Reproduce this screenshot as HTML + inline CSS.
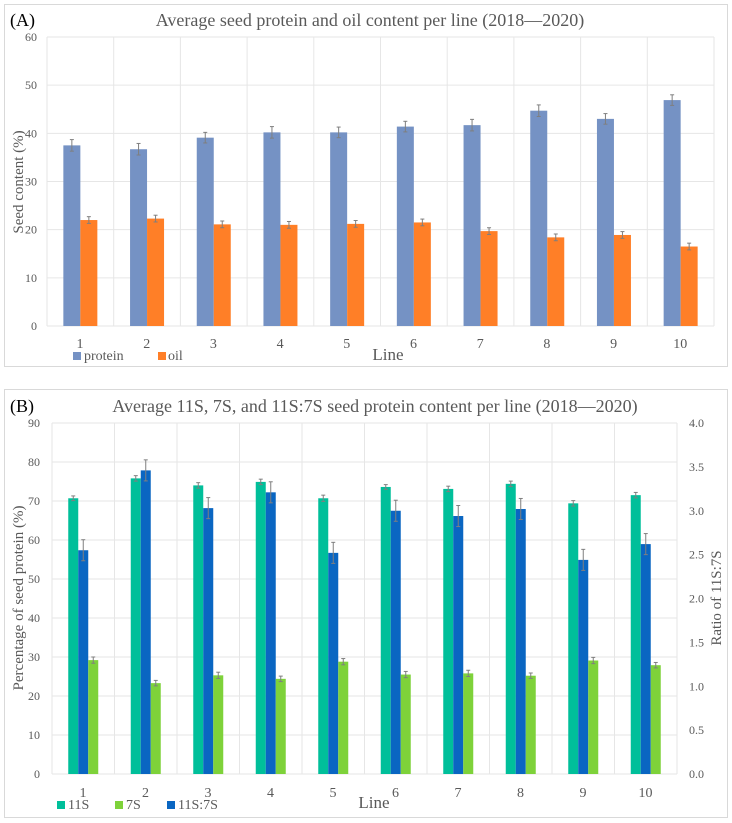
<!DOCTYPE html>
<html><head><meta charset="utf-8">
<style>
body{margin:0;background:#fff;}
svg{display:block;font-family:"Liberation Serif",serif;}
</style></head>
<body>
<svg id="chart" width="732" height="823" viewBox="0 0 732 823"></svg>
<script>
const categories=["1","2","3","4","5","6","7","8","9","10"];
const protein=[37.5,36.7,39.1,40.2,40.2,41.4,41.7,44.7,43.0,46.9];
const proteinErr=[1.2,1.2,1.1,1.2,1.1,1.1,1.2,1.2,1.1,1.1];
const oil=[22.0,22.3,21.1,21.0,21.2,21.5,19.7,18.4,18.9,16.5];
const oilErr=[0.7,0.7,0.7,0.7,0.7,0.7,0.7,0.7,0.7,0.7];
const ticksA=[0,10,20,30,40,50,60];
const s11=[70.7,75.8,74.0,74.9,70.7,73.6,73.1,74.4,69.4,71.5];
const s11Err=[0.6,0.7,0.7,0.7,0.8,0.6,0.7,0.7,0.7,0.7];
const s7=[29.2,23.3,25.3,24.4,28.8,25.5,25.8,25.2,29.1,27.9];
const s7Err=[0.8,0.7,0.8,0.7,0.8,0.8,0.8,0.7,0.8,0.7];
const ratio=[2.55,3.46,3.03,3.21,2.52,3.00,2.94,3.02,2.44,2.62];
const ratioErr=[0.12,0.12,0.12,0.12,0.12,0.12,0.12,0.12,0.12,0.12];
const ticksB=[0,10,20,30,40,50,60,70,80,90];
const ticksR=[0,0.5,1,1.5,2,2.5,3,3.5,4];

const svg=document.getElementById('chart');
const NS='http://www.w3.org/2000/svg';
function mk(tag,attrs,parent){const e=document.createElementNS(NS,tag);for(const k in attrs)e.setAttribute(k,attrs[k]);(parent||svg).appendChild(e);return e;}
function txt(x,y,s,size,anchor,fill,parent){const t=mk('text',{x:x,y:y,'font-size':size,'text-anchor':anchor||'middle',fill:fill||'#595959'},parent);t.textContent=s;return t;}
function bar(g,x,v,e,yf,w,color,name){
 const r=mk('rect',{x:x,y:yf(v),width:w,height:yf(0)-yf(v),fill:color},g);
 
 
 const cx=x+w/2;
 mk('line',{x1:cx,x2:cx,y1:yf(v+e),y2:yf(v-e),stroke:'#7f7f7f','stroke-width':1},g);
 mk('line',{x1:cx-2,x2:cx+2,y1:yf(v+e),y2:yf(v+e),stroke:'#7f7f7f'},g);
 mk('line',{x1:cx-2,x2:cx+2,y1:yf(v-e),y2:yf(v-e),stroke:'#7f7f7f'},g);
}

// Panel A
const gA=mk('g',{});


mk('rect',{x:4.5,y:4.5,width:723,height:362,fill:'#fff',stroke:'#d9d9d9'},gA);
const A={x0:47,x1:714,y0:326,y1:37,max:60};
const yA=v=>A.y0-(v/A.max)*(A.y0-A.y1);
const cwA=(A.x1-A.x0)/categories.length;
ticksA.forEach(tk=>{mk('line',{x1:A.x0,x2:A.x1,y1:yA(tk),y2:yA(tk),stroke:'#e6e6e6'},gA);
 const l=txt(A.x0-10,yA(tk)+4,tk,12,'end','#595959',gA);
 
 });
for(let i=0;i<=categories.length;i++)mk('line',{x1:A.x0+i*cwA,x2:A.x0+i*cwA,y1:A.y1,y2:A.y0,stroke:'#e6e6e6'},gA);
const bwA=17;
categories.forEach((c,i)=>{
 const cx=A.x0+i*cwA+cwA/2;
 bar(gA,cx-bwA,protein[i],proteinErr[i],yA,bwA,'#7592c4','bar-protein');
 bar(gA,cx,oil[i],oilErr[i],yA,bwA,'#ff7f27','bar-oil');
 const l=txt(A.x0+i*cwA+33,348,c,14,'middle','#595959',gA);
 
 
});
let t=txt(370,26,'Average seed protein and oil content per line (2018\u20142020)',18,'middle','#595959',gA);

t=txt(10,26,'(A)',18,'start','#000',gA);

t=txt(0,0,'Seed content (%)',15,'middle','#595959',gA);t.setAttribute('transform','translate(23,182) rotate(-90)');

t=txt(388,360,'Line',17,'middle','#595959',gA);

let le=mk('g',{},gA);
mk('rect',{x:73,y:352,width:8,height:8,fill:'#7592c4'},le);txt(84,360,'protein',14,'start','#595959',le);
le=mk('g',{},gA);
mk('rect',{x:158,y:352,width:8,height:8,fill:'#ff7f27'},le);txt(168,360,'oil',14,'start','#595959',le);

// Panel B
const gB=mk('g',{});


mk('rect',{x:4.5,y:389.5,width:723,height:428,fill:'#fff',stroke:'#d9d9d9'},gB);
const B={x0:52,x1:677,y0:774,y1:423,max:90,rmax:4};
const yB=v=>B.y0-(v/B.max)*(B.y0-B.y1);
const yR=v=>B.y0-(v/B.rmax)*(B.y0-B.y1);
const cwB=(B.x1-B.x0)/categories.length;
ticksB.forEach(tk=>{mk('line',{x1:B.x0,x2:B.x1,y1:yB(tk),y2:yB(tk),stroke:'#e6e6e6'},gB);
 const l=txt(B.x0-12,yB(tk)+4,tk,12,'end','#595959',gB);
 
 });
ticksR.forEach(tk=>{const l=txt(B.x1+12,yR(tk)+4,tk.toFixed(1),12,'start','#595959',gB);
 
 });
for(let i=0;i<=categories.length;i++)mk('line',{x1:B.x0+i*cwB,x2:B.x0+i*cwB,y1:B.y1,y2:B.y0,stroke:'#e6e6e6'},gB);
const bwB=10;
categories.forEach((c,i)=>{
 const cx=B.x0+i*cwB+cwB/2;
 bar(gB,cx-15,s11[i],s11Err[i],yB,bwB,'#00bf9a','bar-11s');
 bar(gB,cx-5,ratio[i],ratioErr[i],yR,bwB,'#0a66c2','bar-ratio');
 bar(gB,cx+5,s7[i],s7Err[i],yB,bwB,'#7ed23a','bar-7s');
 const l=txt(B.x0+i*cwB+31,797,c,14,'middle','#595959',gB);
 
 
});
t=txt(375,412,'Average 11S, 7S, and 11S:7S seed protein content per line (2018\u20142020)',18,'middle','#595959',gB);

t=txt(10,412,'(B)',18,'start','#000',gB);

t=txt(0,0,'Percentage of seed protein (%)',15,'middle','#595959',gB);t.setAttribute('transform','translate(23,598) rotate(-90)');

t=txt(0,0,'Ratio of 11S:7S',15,'middle','#595959',gB);t.setAttribute('transform','translate(721,598) rotate(-90)');

t=txt(374,808,'Line',17,'middle','#595959',gB);

le=mk('g',{},gB);
mk('rect',{x:57,y:801,width:8,height:8,fill:'#00bf9a'},le);txt(68,809,'11S',14,'start','#595959',le);
le=mk('g',{},gB);
mk('rect',{x:115,y:801,width:8,height:8,fill:'#7ed23a'},le);txt(126,809,'7S',14,'start','#595959',le);
le=mk('g',{},gB);
mk('rect',{x:167,y:801,width:8,height:8,fill:'#0a66c2'},le);txt(178,809,'11S:7S',14,'start','#595959',le);
</script>
</body></html>
